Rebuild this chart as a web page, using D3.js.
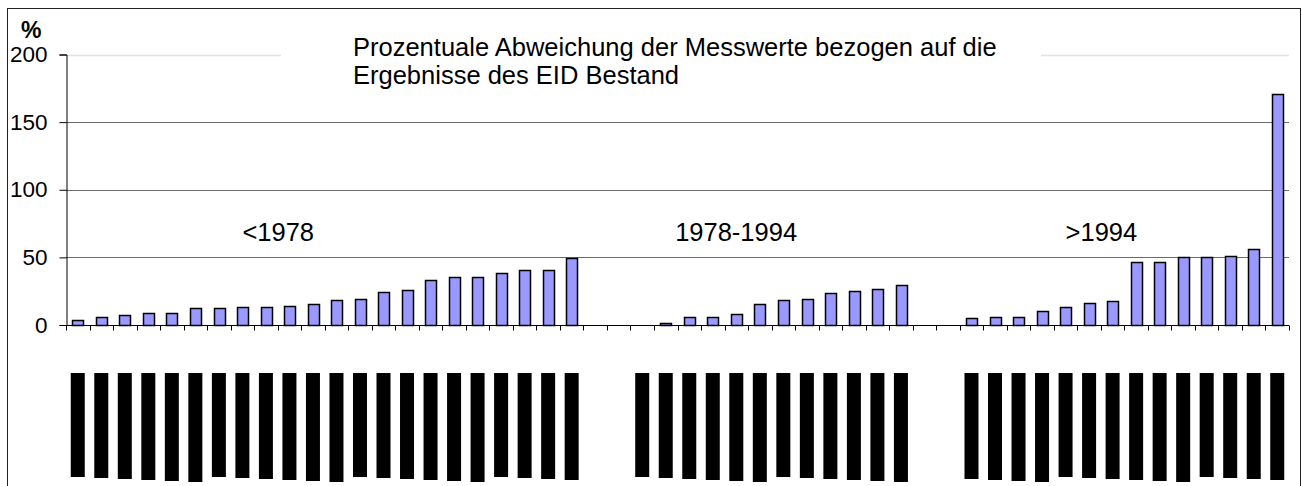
<!DOCTYPE html>
<html>
<head>
<meta charset="utf-8">
<script src="https://cdn.jsdelivr.net/npm/d3@7"></script>
<style>
    body { margin: 0; background: #fff; }
    text { font-family: "Liberation Sans", Arial, sans-serif; fill: #000; }
</style>
</head>
<body>
<svg id="viewBox" width="1302" height="486"></svg>
<script>
'use strict'

// values (percent)
const groupNames = ['<1978', '1978-1994', '>1994']
const before1978 = [3.7, 6.2, 7.1, 9.1, 9.1, 12.3, 12.3, 13.3, 13.3, 14.3, 15.3,
    18.2, 19.5, 24.4, 25.6, 33.5, 35.5, 35.5, 38.7, 40.7, 40.7, 49.8]
const from1978to1994 = [0, 1.2, 6.1, 6.1, 8.1, 15.3, 18.2, 19.4, 23.4, 25.4, 26.6, 29.3]
const after1994 = [5.0, 6.1, 6.1, 10.4, 13.3, 16.3, 17.5, 46.8, 46.8, 50.0, 50.0, 51.0, 56.2, 170.6]
const yTicks = [0, 50, 100, 150, 200]
const gapSlots = 2

const draw_chart = () => {
    const svg = d3.select('#viewBox')
    const left = 66
    const right = 1289
    const top = 54.5
    const bottom = 325

    // flatten the three groups into one category row with empty slots between
    const rows = []
    const groupStart = []
    ;[before1978, from1978to1994, after1994].forEach((vals, g) => {
        if (g > 0) {
            for (let k = 0; k < gapSlots; k++) rows.push({ id: rows.length, value: null })
        }
        groupStart.push(rows.length)
        vals.forEach(v => rows.push({ id: rows.length, value: v, group: g }))
    })

    const x = d3.scaleBand()
        .domain(rows.map(d => d.id))
        .range([left, right])
        .paddingInner(0.545)
        .paddingOuter(0.2725)
    const slot = x.step()
    const y = d3.scaleLinear().domain([0, 200]).range([bottom, top])

    // outer frame
    svg.append('rect')
        .attr('x', 7.5).attr('y', 8.5)
        .attr('width', 1293).attr('height', 500)
        .attr('fill', 'none').attr('stroke', '#222').attr('stroke-width', 1)

    // grid
    svg.append('g')
        .selectAll('line')
        .data(yTicks.filter(t => t > 0))
        .join('line')
        .attr('x1', left).attr('x2', right)
        .attr('y1', d => Math.round(y(d)) + 0.5)
        .attr('y2', d => Math.round(y(d)) + 0.5)
        .attr('stroke', d => d == 200 ? '#e2e2e2' : '#6a6a6a')
        .attr('stroke-width', d => d == 200 ? 1.5 : 1)

    // title box hides the top grid line
    svg.append('rect')
        .attr('x', 281).attr('y', 30)
        .attr('width', 760).attr('height', 62)
        .attr('fill', '#fff')

    const title = svg.append('text')
        .attr('x', 353)
        .attr('font-size', 25.5)
    title.append('tspan').attr('x', 353).attr('y', 56)
        .text('Prozentuale Abweichung der Messwerte bezogen auf die')
    title.append('tspan').attr('x', 353).attr('y', 84)
        .text('Ergebnisse des EID Bestand')

    // y axis
    const yAxis = svg.append('g')
        .attr('transform', `translate(${left + 0.5},0)`)
        .call(d3.axisLeft(y).tickValues(yTicks).tickSize(7).tickPadding(12))
    yAxis.select('.domain').attr('stroke', '#000')
    yAxis.selectAll('.tick line').attr('stroke', '#000')
    yAxis.selectAll('.tick text')
        .attr('font-size', 22.5)
        .attr('font-family', '"Liberation Sans", Arial, sans-serif')
        .attr('fill', '#000')

    svg.append('text')
        .attr('x', 21).attr('y', 38)
        .attr('font-size', 23)
        .attr('font-weight', 'bold')
        .text('%')

    // bars
    svg.append('g')
        .selectAll('rect')
        .data(rows.filter(d => d.value != null))
        .join('rect')
        .attr('x', d => Math.round(x(d.id)) + 0.5)
        .attr('y', d => Math.round(y(d.value)) + 0.5)
        .attr('width', Math.round(x.bandwidth()))
        .attr('height', d => Math.max(0, Math.round(bottom) - Math.round(y(d.value))))
        .attr('fill', '#9999ff')
        .attr('stroke', '#000')
        .attr('stroke-width', 1.5)

    // x axis with ticks between categories
    const xAxis = svg.append('g').attr('transform', `translate(0,${bottom + 0.5})`)
    xAxis.append('line')
        .attr('x1', left).attr('x2', right)
        .attr('stroke', '#000')
    xAxis.selectAll('.tk')
        .data(d3.range(rows.length + 1))
        .join('line')
        .attr('class', 'tk')
        .attr('x1', i => Math.round(left + i * slot) + 0.5)
        .attr('x2', i => Math.round(left + i * slot) + 0.5)
        .attr('y1', 0).attr('y2', 5)
        .attr('stroke', '#000')

    // category labels are blacked out in the source
    svg.append('g')
        .selectAll('rect')
        .data(rows.filter(d => d.value != null))
        .join('rect')
        .attr('x', d => x(d.id) + x.bandwidth() / 2 - 7)
        .attr('y', 373)
        .attr('width', 14)
        .attr('height', d => 104 + (d.id * 7) % 6)
        .attr('fill', '#000')

    // group annotations
    const groupOffset = [7.5, 1.9, 4.5]
    svg.append('g')
        .selectAll('text')
        .data(groupNames)
        .join('text')
        .attr('x', (d, i) => left + (groupStart[i] + groupOffset[i]) * slot)
        .attr('y', 241)
        .attr('font-size', 25.5)
        .text(d => d)
}

draw_chart()
</script>
</body>
</html>
